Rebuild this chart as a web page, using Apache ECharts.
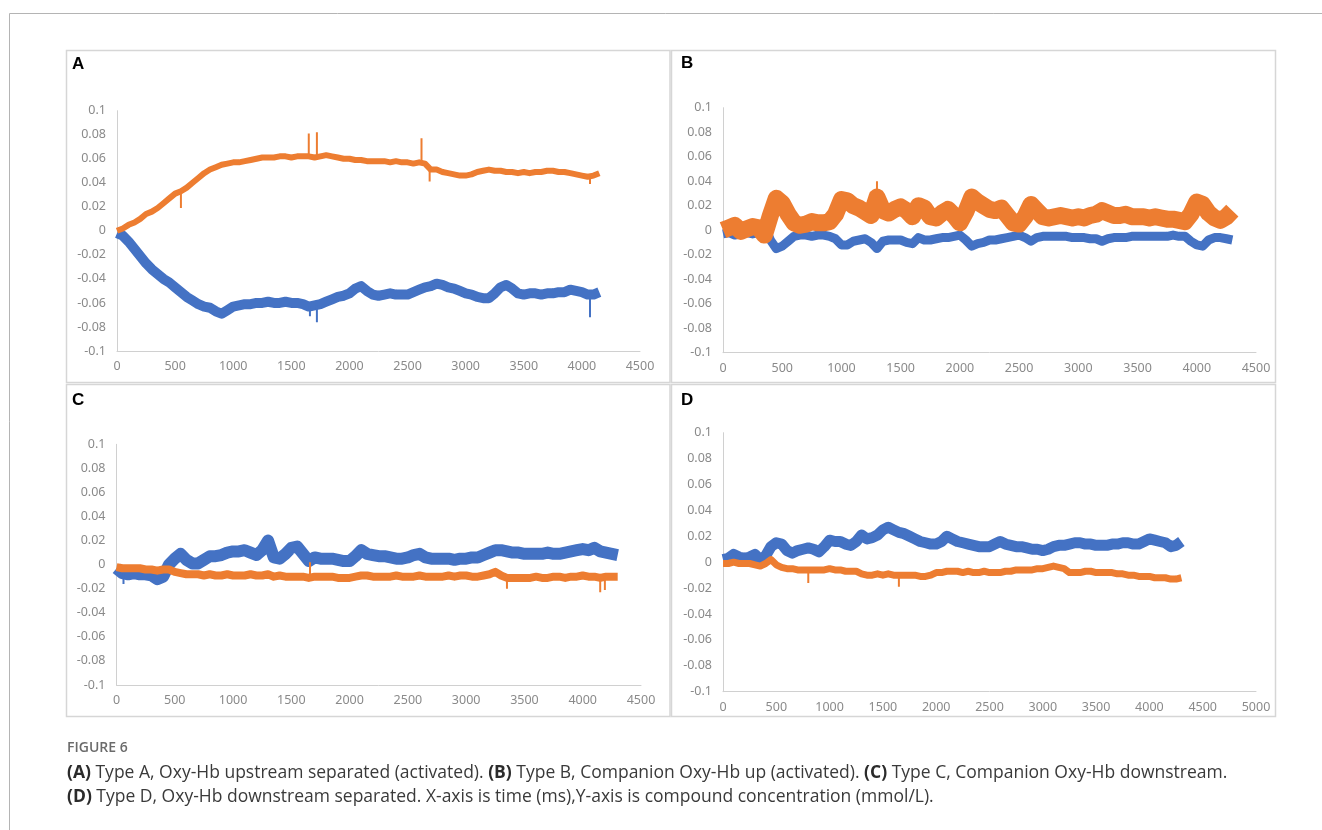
<!DOCTYPE html>
<html>
<head>
<meta charset="utf-8">
<script src="https://cdn.jsdelivr.net/npm/echarts@6/dist/echarts.min.js"></script>
<style>
html,body{margin:0;padding:0;background:#fff;}
#c{width:1322px;height:830px;}
</style>
</head>
<body>
<div id="c"></div>
<script>
// ---- data (time step 50 ms, starting at 0 ms) ----
var STEP = 50;
var A_blue = [-0.002,-0.004,-0.009,-0.015,-0.021,-0.027,-0.032,-0.036,-0.040,-0.043,-0.047,-0.051,-0.055,-0.058,-0.061,-0.063,-0.064,-0.067,-0.069,-0.066,
  -0.063,-0.062,-0.061,-0.061,-0.060,-0.060,-0.059,-0.060,-0.060,-0.059,-0.060,-0.060,-0.061,-0.063,-0.062,-0.061,-0.059,-0.057,-0.055,-0.054,
  -0.052,-0.048,-0.046,-0.050,-0.053,-0.054,-0.053,-0.052,-0.053,-0.053,-0.053,-0.051,-0.049,-0.047,-0.046,-0.044,-0.045,-0.047,-0.048,-0.050,
  -0.052,-0.053,-0.055,-0.056,-0.056,-0.052,-0.047,-0.045,-0.048,-0.052,-0.053,-0.052,-0.052,-0.053,-0.052,-0.052,-0.051,-0.051,-0.049,-0.050,
  -0.051,-0.053,-0.053,-0.051];
var A_orange = [0.000,0.002,0.005,0.007,0.010,0.014,0.016,0.019,0.023,0.027,0.031,0.033,0.036,0.040,0.044,0.048,0.051,0.053,0.055,0.056,
  0.057,0.057,0.058,0.059,0.060,0.061,0.061,0.061,0.062,0.062,0.061,0.062,0.062,0.062,0.061,0.062,0.063,0.062,0.061,0.060,
  0.060,0.059,0.059,0.058,0.058,0.058,0.058,0.057,0.058,0.057,0.057,0.056,0.057,0.056,0.051,0.051,0.049,0.048,0.047,0.046,
  0.046,0.047,0.049,0.050,0.051,0.050,0.050,0.049,0.049,0.048,0.049,0.048,0.049,0.049,0.050,0.050,0.049,0.049,0.048,0.047,
  0.046,0.045,0.046,0.048];
var B_blue = [-0.003,-0.002,-0.004,-0.003,-0.002,-0.003,-0.002,0.004,-0.008,-0.015,-0.013,-0.009,-0.005,-0.004,-0.004,-0.005,-0.004,-0.004,-0.005,-0.007,
  -0.012,-0.012,-0.009,-0.008,-0.007,-0.010,-0.015,-0.009,-0.008,-0.008,-0.008,-0.010,-0.011,-0.006,-0.008,-0.008,-0.007,-0.006,-0.006,-0.005,
  -0.004,-0.008,-0.013,-0.011,-0.010,-0.008,-0.008,-0.007,-0.006,-0.005,-0.004,-0.006,-0.009,-0.006,-0.005,-0.005,-0.005,-0.005,-0.005,-0.006,
  -0.006,-0.006,-0.007,-0.007,-0.009,-0.007,-0.006,-0.006,-0.006,-0.005,-0.005,-0.005,-0.005,-0.005,-0.005,-0.005,-0.004,-0.005,-0.005,-0.009,
  -0.012,-0.013,-0.008,-0.006,-0.006,-0.007,-0.008];
var B_orange = [0.000,0.002,0.004,-0.001,0.001,0.003,0.002,-0.004,0.012,0.026,0.022,0.013,0.006,0.004,0.005,0.007,0.006,0.006,0.007,0.013,
  0.025,0.024,0.020,0.018,0.015,0.012,0.027,0.016,0.014,0.017,0.019,0.016,0.011,0.020,0.018,0.011,0.010,0.014,0.017,0.012,
  0.006,0.015,0.027,0.023,0.020,0.017,0.016,0.018,0.012,0.006,0.005,0.011,0.021,0.016,0.011,0.010,0.011,0.012,0.011,0.010,
  0.011,0.010,0.012,0.013,0.016,0.014,0.012,0.012,0.013,0.011,0.011,0.011,0.010,0.011,0.010,0.009,0.009,0.008,0.007,0.013,
  0.023,0.021,0.014,0.010,0.008,0.011,0.016];
var C_blue = [-0.003,-0.007,-0.008,-0.007,-0.008,-0.008,-0.009,-0.012,-0.010,0.000,0.005,0.009,0.004,0.001,0.001,0.004,0.007,0.007,0.008,0.010,
  0.011,0.011,0.012,0.010,0.008,0.012,0.020,0.006,0.005,0.009,0.014,0.015,0.009,0.003,0.006,0.005,0.005,0.005,0.004,0.003,
  0.003,0.007,0.012,0.009,0.008,0.007,0.007,0.006,0.005,0.005,0.006,0.008,0.009,0.006,0.005,0.005,0.005,0.005,0.004,0.005,
  0.005,0.006,0.006,0.008,0.010,0.012,0.012,0.011,0.010,0.010,0.009,0.009,0.009,0.009,0.010,0.009,0.009,0.010,0.011,0.012,
  0.013,0.012,0.014,0.011,0.010,0.009,0.008];
var C_orange = [-0.002,-0.003,-0.003,-0.003,-0.003,-0.004,-0.004,-0.005,-0.004,-0.004,-0.006,-0.007,-0.008,-0.008,-0.008,-0.009,-0.008,-0.009,-0.009,-0.008,
  -0.009,-0.009,-0.009,-0.008,-0.009,-0.009,-0.008,-0.010,-0.009,-0.010,-0.010,-0.010,-0.010,-0.011,-0.010,-0.010,-0.010,-0.010,-0.011,-0.011,
  -0.011,-0.010,-0.009,-0.009,-0.010,-0.010,-0.010,-0.010,-0.009,-0.010,-0.010,-0.010,-0.009,-0.010,-0.010,-0.010,-0.010,-0.009,-0.010,-0.009,
  -0.009,-0.010,-0.010,-0.009,-0.008,-0.006,-0.009,-0.011,-0.011,-0.011,-0.011,-0.011,-0.010,-0.011,-0.011,-0.010,-0.010,-0.011,-0.010,-0.010,
  -0.009,-0.010,-0.010,-0.011,-0.010,-0.010,-0.010];
var D_blue = [0.002,0.003,0.006,0.004,0.003,0.004,0.006,0.002,0.005,0.012,0.015,0.014,0.009,0.007,0.009,0.010,0.011,0.010,0.008,0.012,
  0.017,0.016,0.016,0.014,0.013,0.016,0.021,0.018,0.019,0.021,0.025,0.027,0.025,0.023,0.022,0.020,0.018,0.016,0.015,0.014,
  0.014,0.016,0.020,0.018,0.016,0.015,0.014,0.013,0.012,0.012,0.012,0.014,0.016,0.014,0.013,0.012,0.012,0.011,0.010,0.010,
  0.009,0.010,0.012,0.013,0.013,0.014,0.015,0.015,0.014,0.014,0.013,0.013,0.013,0.014,0.014,0.015,0.015,0.014,0.014,0.016,
  0.018,0.017,0.016,0.015,0.012,0.013,0.016];
var D_orange = [-0.001,-0.001,0.000,-0.001,-0.001,-0.001,-0.002,-0.003,-0.001,0.002,-0.002,-0.004,-0.005,-0.005,-0.006,-0.006,-0.006,-0.006,-0.006,-0.006,
  -0.005,-0.006,-0.006,-0.007,-0.007,-0.007,-0.009,-0.010,-0.010,-0.009,-0.010,-0.009,-0.010,-0.010,-0.010,-0.010,-0.010,-0.011,-0.011,-0.010,
  -0.008,-0.008,-0.007,-0.007,-0.007,-0.008,-0.007,-0.008,-0.008,-0.007,-0.008,-0.008,-0.008,-0.007,-0.007,-0.006,-0.006,-0.006,-0.006,-0.005,
  -0.005,-0.004,-0.003,-0.004,-0.005,-0.008,-0.008,-0.008,-0.007,-0.007,-0.008,-0.008,-0.008,-0.008,-0.009,-0.009,-0.010,-0.010,-0.011,-0.011,
  -0.011,-0.012,-0.012,-0.012,-0.013,-0.013,-0.012];

// spikes: [time, band value, spike tip]
var A_blue_spikes = [[1660,-0.063,-0.071],[1720,-0.062,-0.076],[4070,-0.053,-0.072]];
var A_orange_spikes = [[550,0.033,0.019],[1650,0.062,0.081],[1720,0.062,0.082],[2620,0.057,0.077],[2690,0.053,0.041],[4070,0.045,0.039]];
var B_blue_spikes = [];
var B_orange_spikes = [[1300,0.027,0.040]];
var C_blue_spikes = [[60,-0.007,-0.016]];
var C_orange_spikes = [[1660,-0.011,0.002],[3350,-0.011,-0.020],[4150,-0.011,-0.023],[4190,-0.010,-0.021]];
var D_blue_spikes = [];
var D_orange_spikes = [[800,-0.006,-0.016],[1650,-0.010,-0.019]];

var panelLetters = ['A','B','C','D'];
var xMax = [4500,4500,4500,5000];
var captionTitle = 'FIGURE 6';
var captionLine1 = '{b|(A)} Type A, Oxy-Hb upstream separated (activated). {b|(B)} Type B, Companion Oxy-Hb up (activated). {b|(C)} Type C, Companion Oxy-Hb downstream.';
var captionLine2 = '{b|(D)} Type D, Oxy-Hb downstream separated. X-axis is time (ms),Y-axis is compound concentration (mmol/L).';

// ---- chart ----
var BLUE = '#4472C4', ORANGE = '#ED7D31';
var grids = [
  {left:117, top:110.7, width:523, height:240.3},
  {left:723, top:107.7, width:533, height:245},
  {left:116.5, top:444.3, width:524.5, height:240.7},
  {left:723, top:432.7, width:533, height:259}
];
var panels = [
  {blue:A_blue, orange:A_orange, bs:A_blue_spikes, os:A_orange_spikes, bw:10, ow:6},
  {blue:B_blue, orange:B_orange, bs:B_blue_spikes, os:B_orange_spikes, bw:9, ow:17},
  {blue:C_blue, orange:C_orange, bs:C_blue_spikes, os:C_orange_spikes, bw:12, ow:8},
  {blue:D_blue, orange:D_orange, bs:D_blue_spikes, os:D_orange_spikes, bw:11, ow:7}
];
function toXY(arr){ return arr.map(function(v,i){ return [i*STEP, v]; }); }
function spikeData(sp){
  var d = [];
  sp.forEach(function(s){ d.push([s[0], s[1]]); d.push([s[0], s[2]]); d.push([s[0], '-']); });
  return d;
}
var labelFont = {color:'#8a8a8a', fontSize:12.5, fontFamily:'Noto Sans'};
var xAxes = [], yAxes = [], series = [];
grids.forEach(function(g,i){
  xAxes.push({type:'value', gridIndex:i, min:0, max:xMax[i], interval:500,
    axisLine:{show:true, onZero:false, lineStyle:{color:'#d0d0d0', width:1}}, axisTick:{show:false},
    splitLine:{show:false},
    axisLabel:Object.assign({margin:9, showMaxLabel:true, formatter:function(v){ return String(v); }}, labelFont)});
  yAxes.push({type:'value', gridIndex:i, min:-0.1, max:0.1, interval:0.02,
    axisLine:{show:true, onZero:false, lineStyle:{color:'#d0d0d0', width:1}}, axisTick:{show:false},
    splitLine:{show:false},
    axisLabel:Object.assign({margin:11, formatter:function(v){ return String(parseFloat(v.toFixed(2))); }}, labelFont)});
  var p = panels[i];
  series.push({type:'line', xAxisIndex:i, yAxisIndex:i, data:toXY(p.blue), symbol:'none', silent:true,
    lineStyle:{color:BLUE, width:p.bw, join:'round', cap:'butt'}, z:2});
  series.push({type:'line', xAxisIndex:i, yAxisIndex:i, data:spikeData(p.bs), symbol:'none', silent:true,
    lineStyle:{color:BLUE, width:2}, z:2});
  series.push({type:'line', xAxisIndex:i, yAxisIndex:i, data:toXY(p.orange), symbol:'none', silent:true,
    lineStyle:{color:ORANGE, width:p.ow, join:'round', cap:'butt'}, z:3});
  series.push({type:'line', xAxisIndex:i, yAxisIndex:i, data:spikeData(p.os), symbol:'none', silent:true,
    lineStyle:{color:ORANGE, width:2}, z:3});
});

var boxes = [[66.5,50.5,603.5,332],[671.5,50.5,604,332],[66.5,384.5,603.5,332],[671.5,384.5,604,332]];
var letterPos = [[72,64],[681,63],[72,400],[681,400]];
var graphic = [
  {type:'line', shape:{x1:9.5,y1:13.5,x2:1322,y2:13.5}, style:{stroke:'#b4b4b4', lineWidth:1}, silent:true},
  {type:'line', shape:{x1:9.5,y1:13.5,x2:9.5,y2:830}, style:{stroke:'#b4b4b4', lineWidth:1}, silent:true}
];
boxes.forEach(function(b,i){
  graphic.push({type:'rect', shape:{x:b[0],y:b[1],width:b[2],height:b[3]}, style:{fill:'none', stroke:'#d6d6d6', lineWidth:1.5}, silent:true});
  graphic.push({type:'text', x:letterPos[i][0], y:letterPos[i][1], style:{text:panelLetters[i], fill:'#000',
    font:'bold 17px "Liberation Sans", Arial, sans-serif', textVerticalAlign:'middle', textAlign:'left'}, silent:true});
});
graphic.push({type:'text', x:67, y:748, style:{text:captionTitle, fill:'#6b6b6b', font:'600 14px "Open Sans", sans-serif', textVerticalAlign:'middle'}, silent:true});
var richB = {b:{fontWeight:'bold', fill:'#2b2b2b', fontSize:17.5, fontFamily:'Open Sans'}};
graphic.push({type:'text', x:67, y:773, style:{text:captionLine1, rich:richB, fill:'#3a3a3a', font:'17.5px "Open Sans", sans-serif', textVerticalAlign:'middle'}, silent:true});
graphic.push({type:'text', x:67, y:797, style:{text:captionLine2, rich:richB, fill:'#3a3a3a', font:'17.5px "Open Sans", sans-serif', textVerticalAlign:'middle'}, silent:true});

var chart = echarts.init(document.getElementById('c'), null, {renderer:'canvas'});
chart.setOption({
  animation:false,
  backgroundColor:'#ffffff',
  grid:grids.map(function(g){ return Object.assign({containLabel:false}, g); }),
  xAxis:xAxes, yAxis:yAxes, series:series, graphic:graphic
});
</script>
</body>
</html>
